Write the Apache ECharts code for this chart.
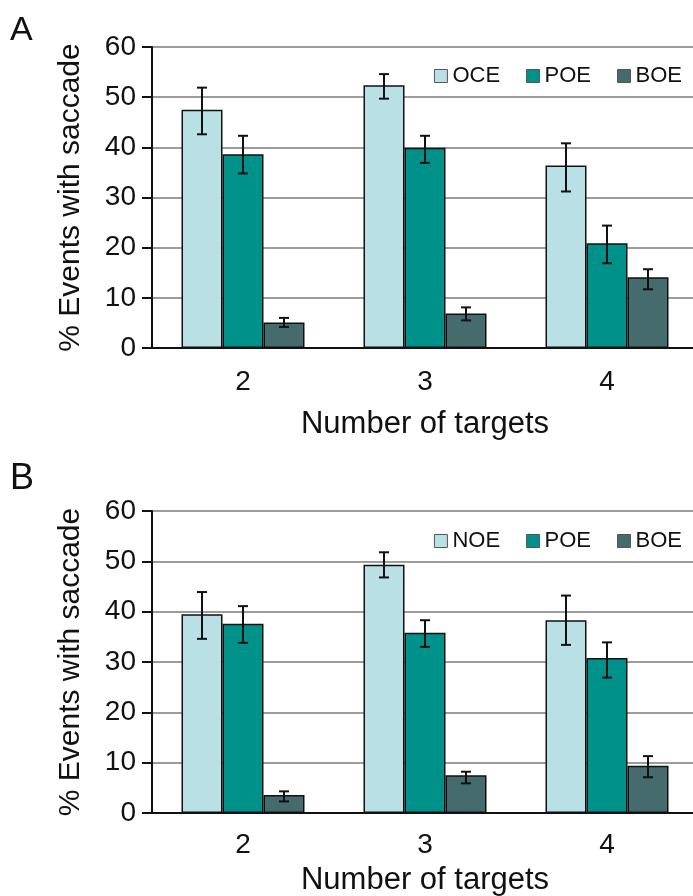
<!DOCTYPE html>
<html>
<head>
<meta charset="utf-8">
<script src="https://cdn.jsdelivr.net/npm/echarts@6/dist/echarts.min.js"></script>
<style>
html,body{margin:0;padding:0;background:#fff;}
#main{width:693px;height:896px;}
</style>
</head>
<body>
<div id="main"></div>
<script>
// ---- data ----
const categories = ['2', '3', '4'];
const yTicks = [0, 10, 20, 30, 40, 50, 60];

const namesA = ['OCE', 'POE', 'BOE'];
const aOCE = [47.5, 52.4, 36.4];
const aOCElo = [42.6, 49.7, 31.2];
const aOCEhi = [51.9, 54.6, 40.8];
const aPOE = [38.6, 39.9, 20.9];
const aPOElo = [34.8, 36.9, 16.9];
const aPOEhi = [42.3, 42.3, 24.4];
const aBOE = [5.1, 6.9, 14.1];
const aBOElo = [4.2, 5.5, 11.7];
const aBOEhi = [6.0, 8.1, 15.7];

const namesB = ['NOE', 'POE', 'BOE'];
const bNOE = [39.5, 49.3, 38.3];
const bNOElo = [34.6, 46.8, 33.4];
const bNOEhi = [43.9, 51.8, 43.2];
const bPOE = [37.6, 35.8, 30.8];
const bPOElo = [33.8, 33.0, 26.9];
const bPOEhi = [41.1, 38.3, 33.9];
const bBOE = [3.6, 7.5, 9.4];
const bBOElo = [2.3, 5.9, 7.1];
const bBOEhi = [4.3, 8.2, 11.3];

// ---- styles ----
const FONT = 'Liberation Sans, Arial, Helvetica, sans-serif';
const colors = ['#b9e0e4', '#00918a', '#466b6c'];
const BAR_W = 41;

const panelA = { vals: [aOCE, aPOE, aBOE], lo: [aOCElo, aPOElo, aBOElo], hi: [aOCEhi, aPOEhi, aBOEhi], names: namesA };
const panelB = { vals: [bNOE, bPOE, bBOE], lo: [bNOElo, bPOElo, bBOElo], hi: [bNOEhi, bPOEhi, bBOEhi], names: namesB };

function renderErr(params, api) {
  const cat = api.value(0);
  const k = api.value(3);
  const p1 = api.coord([cat, api.value(1)]);
  const p2 = api.coord([cat, api.value(2)]);
  const x = p1[0] + (k - 1) * BAR_W;
  const st = { stroke: '#111', lineWidth: 2 };
  return {
    type: 'group',
    children: [
      { type: 'line', shape: { x1: x, y1: p1[1], x2: x, y2: p2[1] }, style: st },
      { type: 'line', shape: { x1: x - 5, y1: p1[1], x2: x + 5, y2: p1[1] }, style: st },
      { type: 'line', shape: { x1: x - 5, y1: p2[1], x2: x + 5, y2: p2[1] }, style: st }
    ]
  };
}

function xAxisFor(idx, margin, nameGap) {
  return {
    type: 'category', gridIndex: idx, data: categories,
    axisLine: { lineStyle: { color: '#111', width: 2 } },
    axisTick: { length: 8, lineStyle: { color: '#111', width: 2 } },
    axisLabel: { fontSize: 28, color: '#111', fontFamily: FONT, margin: margin },
    name: 'Number of targets', nameLocation: 'middle', nameGap: nameGap,
    nameTextStyle: { fontSize: 31, color: '#111', fontFamily: FONT }
  };
}
function yAxisFor(idx) {
  return {
    type: 'value', gridIndex: idx, min: yTicks[0], max: yTicks[yTicks.length - 1], interval: 10,
    axisLine: { show: true, lineStyle: { color: '#111', width: 2 } },
    axisTick: { show: true, length: 10, lineStyle: { color: '#111', width: 2 } },
    axisLabel: { fontSize: 28, color: '#111', fontFamily: FONT, margin: 16 },
    splitLine: { lineStyle: { color: '#9c9c9c', width: 2 } },
    name: '% Events with saccade', nameLocation: 'middle', nameGap: 66, nameRotate: 90,
    nameTextStyle: { fontSize: 30, color: '#111', fontFamily: FONT }
  };
}

const series = [];
[panelA, panelB].forEach((p, gi) => {
  p.vals.forEach((v, k) => {
    series.push({
      type: 'bar', name: p.names[k], xAxisIndex: gi, yAxisIndex: gi,
      data: v, barWidth: BAR_W, barGap: '0%',
      itemStyle: { color: colors[k], borderColor: '#111', borderWidth: 1.5 },
      emphasis: { disabled: true }
    });
  });
  p.vals.forEach((v, k) => {
    series.push({
      type: 'custom', xAxisIndex: gi, yAxisIndex: gi, z: 10,
      renderItem: renderErr,
      encode: { x: 0, y: [1, 2] },
      data: categories.map((c, i) => [i, p.lo[k][i], p.hi[k][i], k]),
      silent: true
    });
  });
});

function legendFor(names, top) {
  return {
    data: names, top: top, right: 6, orient: 'horizontal',
    itemWidth: 13, itemHeight: 13, itemGap: 26,
    icon: 'rect',
    itemStyle: { borderColor: '#555', borderWidth: 1 },
    textStyle: { fontSize: 22, color: '#111', fontFamily: FONT, padding: [0, 0, 0, 0] },
    selectedMode: false
  };
}

const option = {
  backgroundColor: '#fff',
  animation: false,
  title: [
    { text: 'A', left: 5, top: 9, textStyle: { fontSize: 34, fontWeight: 'normal', color: '#111', fontFamily: FONT } },
    { text: 'B', left: 5, top: 456, textStyle: { fontSize: 36, fontWeight: 'normal', color: '#111', fontFamily: FONT } }
  ],
  legend: [legendFor(namesA, 60), legendFor(namesB, 525)],
  grid: [
    { left: 152, top: 47, width: 546, height: 301, outerBoundsMode: 'none', containLabel: false },
    { left: 152, top: 511, width: 546, height: 302, outerBoundsMode: 'none', containLabel: false }
  ],
  xAxis: [xAxisFor(0, 20, 61), xAxisFor(1, 18, 52)],
  yAxis: [yAxisFor(0), yAxisFor(1)],
  series: series
};

const chart = echarts.init(document.getElementById('main'));
chart.setOption(option);
</script>
</body>
</html>
